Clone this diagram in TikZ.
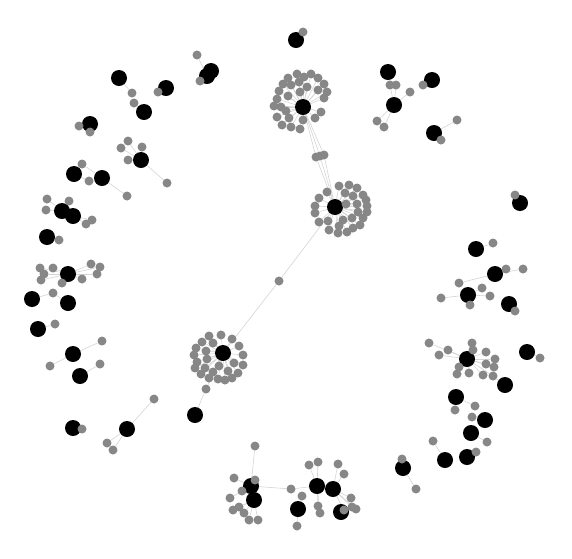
\documentclass[tikz,border=0pt]{standalone}
\usetikzlibrary{backgrounds}

% leaves around a hub, each joined to it
\newcommand{\spokes}[3]{%
  \foreach \x/\y [count=\i] in {#3} {%
    \node[leaf] (#2\i) at (\x,\y) {};
    \begin{pgfonlayer}{background}
      \draw[link] (#1) -- (#2\i);
    \end{pgfonlayer}
  }%
}

\begin{document}
\begin{tikzpicture}[
        x=1pt, y=-1pt,
        hub/.style={circle, fill=black, inner sep=0pt, minimum size=16pt},
        leaf/.style={circle, fill=black!47, inner sep=0pt, minimum size=9pt},
        link/.style={draw=black!17, line width=0.6pt}
    ]
        \useasboundingbox (0,0) rectangle (572,558);

        % Top cluster
        \node[hub] (top) at (303,107) {};
        \spokes{top}{t}{297/74, 304/77, 311/74, 318/78, 288/78, 283/84, 291/85,
            299/82, 307/87, 318/90, 324/84, 327/92, 324/98, 279/91, 288/96, 300/92,
            277/99, 274/106, 281/107, 286/111, 277/117, 289/118, 303/120, 315/118,
            321/112, 282/125, 291/127, 300/129}

        % Middle cluster
        \node[hub] (mid) at (335,207) {};
        \spokes{mid}{m}{339/186, 349/185, 357/188, 327/192, 345/193, 353/196,
            363/195, 319/198, 366/200, 315/206, 346/204, 357/204, 367/206, 315/213,
            358/212, 367/212, 319/222, 328/221, 343/220, 352/218, 363/218, 329/230,
            339/226, 347/232, 353/228, 360/225, 338/233}

        % Lower cluster
        \node[hub] (low) at (223,353) {};
        \spokes{low}{c}{209/336, 221/335, 232/339, 202/342, 213/343, 196/348,
            206/351, 239/346, 194/355, 243/355, 197/362, 207/359, 234/363, 195/368,
            205/368, 219/366, 243/365, 201/374, 213/372, 228/371, 238/373, 209/378,
            218/379, 225/380, 232/378, 206/389}
        \node[hub] (lb) at (195,415) {};

        % Bridges between clusters
        \node[leaf] (br1) at (316,157) {};
        \node[leaf] (br2) at (320,156) {};
        \node[leaf] (br3) at (324,155) {};
        \node[leaf] (br4) at (279,281) {};

        % Upper left
        \node[hub] (h1) at (119,78) {};   \spokes{h1}{a}{132/93}
        \node[hub] (h2) at (144,112) {};  \spokes{h2}{b}{134/103}
        \node[hub] (h3) at (166,88) {};   \spokes{h3}{d}{158/92}
        \node[hub] (h4) at (207,76) {};
        \node[hub] (h5) at (211,71) {};   \spokes{h4}{e}{197/55, 200/81}
        \node[hub] (h6) at (296,40) {};   \spokes{h6}{f}{303/32}
        \node[hub] (h7) at (90,124) {};   \spokes{h7}{g}{79/126, 90/132}
        \node[hub] (h8) at (141,160) {};  \spokes{h8}{k}{128/141, 121/148, 142/147, 128/160, 167/183}
        \node[hub] (h9) at (74,174) {};   \spokes{h9}{n}{89/181}
        \node[hub] (h10) at (102,178) {}; \spokes{h10}{o}{82/164, 127/196}

        % Left
        \node[hub] (h11) at (62,211) {};  \spokes{h11}{p}{47/199, 46/210, 69/201}
        \node[hub] (h12) at (73,216) {};  \spokes{h12}{q}{92/220, 86/224}
        \node[hub] (h13) at (47,237) {};  \spokes{h13}{r}{59/240}
        \node[hub] (h14) at (68,274) {};  \spokes{h14}{s}{40/268, 53/268, 44/274, 41/280,
            91/264, 100/267, 97/274, 82/279, 62/283}
        \node[hub] (h15) at (32,299) {};
        \node[hub] (h16) at (68,303) {};  \spokes{h15}{u}{53/293}
        \node[hub] (h17) at (38,329) {};  \spokes{h17}{v}{55/324}
        \node[hub] (h18) at (73,354) {};  \spokes{h18}{w}{102/341, 50/366}
        \node[hub] (h19) at (80,376) {};  \spokes{h19}{z}{100/364}
        \node[hub] (h20) at (73,428) {};  \spokes{h20}{aa}{82/429}
        \node[hub] (h21) at (127,429) {}; \spokes{h21}{ab}{154/399, 107/443, 113/450}

        % Bottom
        \node[hub] (h22) at (251,486) {};
        \node[hub] (h23) at (254,500) {};
        \spokes{h22}{ac}{255/446, 234/478, 255/480, 242/491, 230/498, 291/489}
        \spokes{h23}{ad}{239/507, 233/510, 244/513, 249/520, 258/520}
        \node[hub] (h24) at (317,486) {}; \spokes{h24}{ae}{309/465, 318/462, 318/506, 320/513}
        \node[hub] (h25) at (333,489) {};
        \node[hub] (h26) at (341,512) {}; \spokes{h25}{af}{338/464, 344/474, 351/498, 352/507, 356/509, 344/510}
        \node[hub] (h27) at (298,509) {}; \spokes{h27}{ag}{302/496, 297/526}

        % Lower right
        \node[hub] (h28) at (403,468) {}; \spokes{h28}{ah}{402/459, 416/489}
        \node[hub] (h29) at (445,460) {}; \spokes{h29}{ai}{433/441}
        \node[hub] (h30) at (467,457) {}; \spokes{h30}{aj}{476/452}
        \node[hub] (h31) at (471,433) {}; \spokes{h31}{ak}{487/442}
        \node[hub] (h32) at (485,420) {}; \spokes{h32}{al}{472/417}
        \node[hub] (h33) at (456,397) {}; \spokes{h33}{am}{475/406, 455/410}
        \node[hub] (h34) at (505,385) {};
        \node[hub] (h35) at (467,359) {}; \spokes{h35}{an}{429/343, 448/350, 439/355,
            472/343, 473/350, 486/352, 495/359, 486/364, 494/367, 459/367, 457/374,
            469/373, 483/375, 493/376}
        \node[hub] (h36) at (527,352) {}; \spokes{h36}{ao}{540/358}

        % Right
        \node[hub] (h37) at (509,304) {}; \spokes{h37}{ap}{515/311}
        \node[hub] (h38) at (468,295) {}; \spokes{h38}{aq}{441/298, 482/288, 490/296, 470/305}
        \node[hub] (h39) at (495,274) {}; \spokes{h39}{ar}{459/283, 506/269, 523/269}
        \node[hub] (h40) at (476,249) {}; \spokes{h40}{as}{493/243}
        \node[hub] (h41) at (520,203) {}; \spokes{h41}{at}{515/195}

        % Upper right
        \node[hub] (h42) at (434,133) {}; \spokes{h42}{au}{457/120, 441/140}
        \node[hub] (h43) at (388,72) {};
        \node[hub] (h44) at (394,105) {}; \spokes{h44}{av}{390/85, 396/85, 410/92, 377/121, 384/127}
        \node[hub] (h45) at (432,80) {};  \spokes{h45}{aw}{423/85}

        % Remaining links
        \begin{pgfonlayer}{background}
            \foreach \b in {br1,br2,br3} {
                \draw[link] (top) -- (\b);
                \draw[link] (\b) -- (mid);
            }
            \draw[link] (mid) -- (br4) -- (low);
            \draw[link] (c26) -- (lb);
            \draw[link] (u1) -- (h16);
            \draw[link] (ac6) -- (h24);
            \draw[link] (af6) -- (h26);
            \draw[link] (an14) -- (h34);
            \draw[link] (av1) -- (h43);
        \end{pgfonlayer}
    \end{tikzpicture}
\end{document}
